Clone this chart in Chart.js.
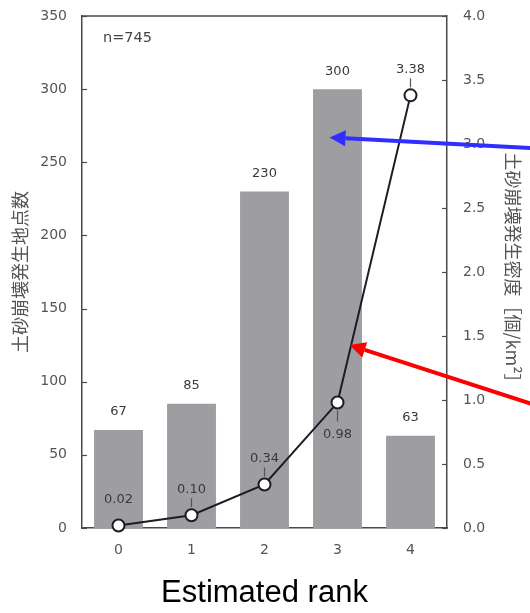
<!DOCTYPE html>
<html>
<head>
<meta charset="utf-8">
<script src="https://cdn.jsdelivr.net/npm/chart.js@4.4.1/dist/chart.umd.min.js"></script>
<style>
  html, body { margin: 0; padding: 0; background: #fff; }
  #wrap { width: 530px; height: 613px; }
</style>
</head>
<body>
<div id="wrap"><canvas id="chart" width="530" height="613"></canvas></div>
<script>
// Daten aus der Abbildung
const ranks = ['0', '1', '2', '3', '4'];
const anzahl = [67, 85, 230, 300, 63];          // 土砂崩壊発生地点数
const dichte = [0.02, 0.10, 0.34, 0.98, 3.38];  // 土砂崩壊発生密度
const dichteLabelSeite = ['above', 'above', 'above', 'below', 'above'];
const stichprobe = 'n=745';

const achsenFarbe = '#4a4a4a';
const textFarbe = '#555';
const balkenFarbe = '#9e9ea2';
const linienFarbe = '#1c1c26';

// Pfeile: Spitze in Datenkoordinaten (Kategorie-Index, Wert, Achse), Ende am rechten Rand
const pfeile = [
  { farbe: '#2f2fff', x: 3, dx: -8, wert: 267, achse: 'y', endeY: 148 },
  { farbe: '#ff0000', x: 3, dx: 12, wert: 1.43, achse: 'y1', endeY: 404 }
];

function zeichnePfeil(ctx, x1, y1, x2, y2, farbe) {
  const winkel = Math.atan2(y2 - y1, x2 - x1);
  const kopfLaenge = 16, kopfBreite = 8;
  const bx = x2 - kopfLaenge * Math.cos(winkel);
  const by = y2 - kopfLaenge * Math.sin(winkel);
  ctx.save();
  ctx.strokeStyle = farbe;
  ctx.fillStyle = farbe;
  ctx.lineWidth = 4;
  ctx.beginPath();
  ctx.moveTo(x1, y1);
  ctx.lineTo(bx, by);
  ctx.stroke();
  ctx.beginPath();
  ctx.moveTo(x2, y2);
  ctx.lineTo(bx + kopfBreite * Math.sin(winkel), by - kopfBreite * Math.cos(winkel));
  ctx.lineTo(bx - kopfBreite * Math.sin(winkel), by + kopfBreite * Math.cos(winkel));
  ctx.closePath();
  ctx.fill();
  ctx.restore();
}

const extras = {
  id: 'extras',
  afterDatasetsDraw(chart) {
    const ctx = chart.ctx;
    const area = chart.chartArea;
    const yS = chart.scales.y, y1S = chart.scales.y1;

    ctx.save();
    // obere Rahmenlinie
    ctx.strokeStyle = achsenFarbe;
    ctx.lineWidth = 1.5;
    ctx.beginPath();
    ctx.moveTo(area.left, area.top);
    ctx.lineTo(area.right, area.top);
    ctx.stroke();

    // Ticks nach innen
    ctx.lineWidth = 1.2;
    yS.ticks.forEach(t => {
      const py = Math.round(yS.getPixelForValue(t.value)) + 0.5;
      ctx.beginPath(); ctx.moveTo(area.left, py); ctx.lineTo(area.left + 5, py); ctx.stroke();
    });
    y1S.ticks.forEach(t => {
      const py = Math.round(y1S.getPixelForValue(t.value)) + 0.5;
      ctx.beginPath(); ctx.moveTo(area.right, py); ctx.lineTo(area.right - 5, py); ctx.stroke();
    });

    // Balkenwerte
    ctx.fillStyle = '#3a3a3a';
    ctx.font = '13px "DejaVu Sans"';
    ctx.textAlign = 'center';
    ctx.textBaseline = 'middle';
    chart.getDatasetMeta(1).data.forEach((bar, i) => {
      ctx.fillText(String(anzahl[i]), bar.x, bar.y - 18);
    });

    // Dichtewerte mit kurzen Hinweislinien
    ctx.strokeStyle = '#555';
    ctx.lineWidth = 1.2;
    chart.getDatasetMeta(0).data.forEach((pt, i) => {
      const txt = dichte[i].toFixed(2);
      if (dichteLabelSeite[i] === 'above') {
        if (i > 0) { ctx.beginPath(); ctx.moveTo(pt.x, pt.y - 8); ctx.lineTo(pt.x, pt.y - 17); ctx.stroke(); }
        ctx.fillText(txt, pt.x, pt.y - 26);
      } else {
        ctx.beginPath(); ctx.moveTo(pt.x, pt.y + 8); ctx.lineTo(pt.x, pt.y + 19); ctx.stroke();
        ctx.fillText(txt, pt.x, pt.y + 32);
      }
    });

    // Stichprobe
    ctx.fillStyle = '#444';
    ctx.font = '14.5px "DejaVu Sans"';
    ctx.textAlign = 'left';
    ctx.fillText(stichprobe, area.left + 21, area.top + 22);
    ctx.restore();
  },
  afterDraw(chart) {
    const xS = chart.scales.x;
    pfeile.forEach(p => {
      const tipX = xS.getPixelForValue(p.x) + p.dx;
      const tipY = chart.scales[p.achse].getPixelForValue(p.wert);
      zeichnePfeil(chart.ctx, chart.width + 2, p.endeY, tipX, tipY, p.farbe);
    });
  }
};

new Chart(document.getElementById('chart'), {
  data: {
    labels: ranks,
    datasets: [
      {
        type: 'line',
        label: '土砂崩壊発生密度',
        data: dichte,
        yAxisID: 'y1',
        order: 0,
        borderColor: linienFarbe,
        borderWidth: 2,
        tension: 0,
        pointRadius: 6,
        pointBorderWidth: 2,
        pointBackgroundColor: '#fff',
        pointBorderColor: linienFarbe,
        clip: false
      },
      {
        type: 'bar',
        label: '土砂崩壊発生地点数',
        data: anzahl,
        yAxisID: 'y',
        order: 1,
        backgroundColor: balkenFarbe,
        categoryPercentage: 1,
        barPercentage: 0.67
      }
    ]
  },
  plugins: [extras],
  options: {
    responsive: false,
    animation: false,
    layout: { padding: { top: 16, left: 0, right: 0, bottom: 0 } },
    plugins: {
      legend: { display: false },
      tooltip: { enabled: false }
    },
    scales: {
      x: {
        grid: { display: false, drawTicks: false },
        border: { color: achsenFarbe, width: 1.5 },
        ticks: { color: textFarbe, font: { family: 'DejaVu Sans', size: 14 }, padding: 14 },
        title: {
          display: true,
          text: 'Estimated rank',
          color: '#000',
          font: { family: 'Liberation Sans', size: 31, lineHeight: 1 },
          padding: { top: 0, bottom: 4 }
        },
        afterFit(scale) { scale.height = 85; scale.paddingLeft = 0; scale.paddingRight = 0; }
      },
      y: {
        position: 'left',
        min: 0,
        max: 350,
        grid: { display: false, drawTicks: false },
        border: { color: achsenFarbe, width: 1.5 },
        ticks: { stepSize: 50, color: textFarbe, font: { family: 'DejaVu Sans', size: 14 }, padding: 15 },
        title: {
          display: true,
          text: '土砂崩壊発生地点数',
          color: textFarbe,
          font: { family: 'Noto Sans CJK JP', size: 18, lineHeight: 1.2 },
          padding: { top: 9, bottom: 0 }
        },
        afterFit(scale) { scale.width = 82; scale.paddingTop = 0; scale.paddingBottom = 0; }
      },
      y1: {
        position: 'right',
        min: 0,
        max: 4,
        grid: { display: false, drawTicks: false },
        border: { color: achsenFarbe, width: 1.5 },
        ticks: {
          stepSize: 0.5,
          color: textFarbe,
          font: { family: 'DejaVu Sans', size: 14 },
          padding: 16,
          callback: v => v.toFixed(1)
        },
        title: {
          display: true,
          text: '土砂崩壊発生密度［個/km²］',
          color: textFarbe,
          font: { family: 'Noto Sans CJK JP', size: 18, lineHeight: 1.2 },
          padding: { top: 6, bottom: 0 }
        },
        afterFit(scale) { scale.width = 83; scale.paddingTop = 0; scale.paddingBottom = 0; }
      }
    }
  }
});
</script>
</body>
</html>
